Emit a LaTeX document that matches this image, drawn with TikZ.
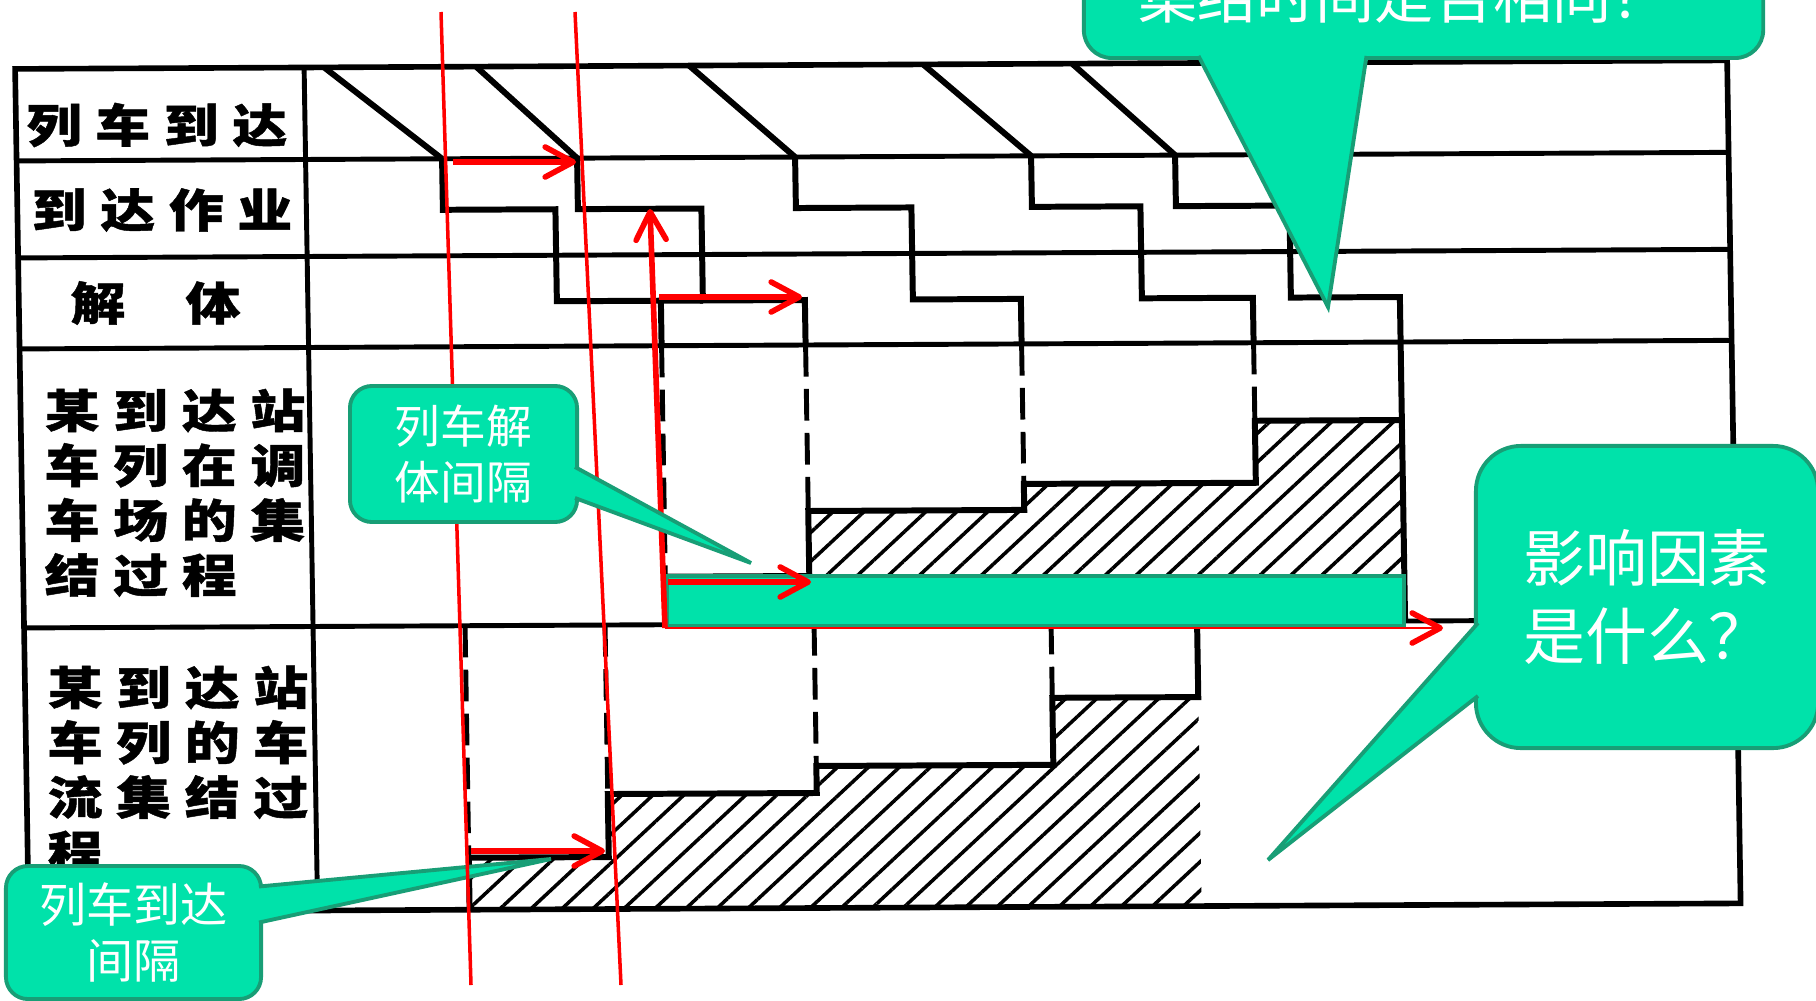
\documentclass[tikz,border=0pt]{standalone}
\usepackage{fontspec}
\usepackage{tikz}
\usetikzlibrary{arrows.meta,calc,patterns.meta}

\newfontfamily\cjk{Noto Sans CJK SC}
\newfontfamily\cjktab[FakeStretch=1.2,LetterSpace=30,FakeBold=1]{Noto Sans CJK SC}

\definecolor{bubblefill}{RGB}{0,226,170}
\definecolor{bubbleline}{RGB}{24,158,118}

\begin{document}
\begin{tikzpicture}[
  x=0.01cm, y=-0.01cm,
  frame/.style={line width=1.6pt},
  grid/.style={line width=1.4pt},
  stair/.style={line width=1.7pt, line join=miter},
  gapline/.style={line width=1.4pt, dash pattern=on 9pt off 3.5pt},
  hatch/.style={pattern={Lines[angle=43,distance=6pt,line width=1pt]}},
  rowlabel/.style={font=\cjktab\bfseries\fontsize{13}{15.6}\selectfont, inner sep=0pt, align=left},
  bubble/.style={draw=bubbleline, fill=bubblefill, line width=1.1pt, text=white,
    inner sep=0pt, align=center},
  pointer/.style={draw=bubbleline, fill=bubblefill, line width=1.1pt, line join=miter},
  guide/.style={red, line width=1pt},
  redarr/.style={red, line width=1.6pt,
    -{Straight Barb[length=0.28cm,width=0.3cm,line width=1.6pt,round]}},
]
\useasboundingbox (0,0) rectangle (1816,1000);

% scanned chart, slightly sheared
\begin{scope}[cm={1,0.005,-0.016,1,(0,0)}]
  % hatched accumulation
  \path[hatch] (656,628) -- (656,580) -- (800,580) -- (800,515) -- (1016,515)
    -- (1016,489) -- (1248,489) -- (1248,427) -- (1395,427) -- (1395,628) -- cycle;
  \path[hatch] (455,912) -- (455,860) -- (595,860) -- (595,797) -- (804,797)
    -- (804,770) -- (1041,770) -- (1041,703) -- (1187,703) -- (1187,912) -- cycle;
  \draw[stair] (656,580) -- (800,580) -- (800,515) -- (1016,515) -- (1016,489)
    -- (1248,489) -- (1248,427) -- (1395,427);
  \draw[stair] (455,912) -- (455,860) -- (595,860) -- (595,797) -- (804,797)
    -- (804,770) -- (1041,770) -- (1041,703) -- (1187,703) -- (1187,628);

  % table
  \draw[frame] (14,69) rectangle (1726,912);
  \draw[grid] (303,69) -- (303,912);
  \foreach \y in {161,258,349,628}
    \draw[grid] (14,\y) -- (1726,\y);

  % arrivals, arrival work and breakup
  \foreach \t/\a in {323/439.5,475/574.5,688/792.5,922/1028.5,1071/1172.5}
    \draw[stair] (\t,69) -- (\a,161);
  \foreach \a/\e/\b in {439.5/552/656,574.5/698/800,792.5/908/1016,1028.5/1137/1248,1172.5/1286/1395}
    \draw[stair] (\a,161) -- (\a,212) -- (\e,212) -- (\e,304) -- (\b,304) -- (\b,349);
  \draw[stair] (656,304) -- (698,304);
  \draw[stair] (1395,349) -- (1395,628);

  \foreach \x/\yb in {656/580,800/515,1016/489,1248/427}
    \draw[gapline] (\x,349) -- (\x,\yb);
  \foreach \x/\yb in {455/860,595/797,804/770,1041/703}
    \draw[gapline] (\x,628) -- (\x,\yb);
\end{scope}

% row labels
\node[rowlabel, anchor=west] (arrive) at (26,125) {列车到达};
\node[rowlabel, anchor=west] (arrwork) at (31,210) {到达作业};
\node[rowlabel, anchor=west] (breakup) at (70,303) {解\hspace{0.6cm}体};
\node[rowlabel, anchor=north west] (yard) at (44,388) {某到达站\\车列在调\\车场的集\\结过程};
\node[rowlabel, anchor=north west] (flow) at (47,665) {某到达站\\车列的车\\流集结过\\程};

% collection time bar
\node[bubble, line width=1pt, minimum width=7.37cm, minimum height=0.5cm,
  anchor=south west] (gbar) at (665,628) {};

% arrival interval callout
\node[bubble, rounded corners=0.22cm, minimum width=2.55cm, minimum height=1.33cm,
  font=\cjk\fontsize{13.4}{15.9}\selectfont] (gap2) at (133.5,932.5) {列车到达\\间隔};
\coordinate (gap2 tip) at (551,859);
\filldraw[pointer] ($(gap2.east)+(-4,-46)$) -- (gap2 tip) -- ($(gap2.east)+(-4,-10)$);

% red guides
\coordinate (g1 top) at (441,12);
\coordinate (g1 bot) at (471,985);
\coordinate (g2 top) at (575,12);
\coordinate (g2 bot) at (621,985);
\draw[guide] (g1 top) -- (g1 bot);
\draw[guide] (g2 top) -- (g2 bot);

\coordinate (arrA s) at (453,162);
\coordinate (arrA e) at (576,162);
\coordinate (brk s) at (659,297);
\coordinate (brk e) at (802,297);
\coordinate (up e) at (650,209);
\coordinate (acc s) at (668,582);
\coordinate (acc e) at (811,582);
\coordinate (flow s) at (471,851);
\coordinate (flow e) at (605,851);
\coordinate (time e) at (1443,628);
\draw[redarr] (arrA s) -- (arrA e);
\draw[redarr] (brk s) -- (brk e);
\draw[redarr] (gbar.south west) -- (up e);
\draw[redarr] (acc s) -- (acc e);
\draw[redarr] (flow s) -- (flow e);
\draw[redarr, line width=0.8pt] (gbar.south west) -- (time e);

% breakup interval callout
\node[bubble, rounded corners=0.22cm, minimum width=2.27cm, minimum height=1.36cm,
  font=\cjk\fontsize{13}{16.2}\selectfont] (gap1) at (463.5,454) {列车解\\体间隔};
\coordinate (gap1 tip) at (751,563);
\filldraw[pointer] ($(gap1.east)+(-4,13)$) -- (gap1 tip) -- ($(gap1.east)+(-4,44)$);

% factors callout
\node[bubble, rounded corners=0.45cm, minimum width=3.42cm, minimum height=3.02cm,
  font=\cjk\fontsize{17.6}{22}\selectfont] (factor) at (1647,597) {影响因素\\是什么？};
\coordinate (factor tip) at (1268,860);
\filldraw[pointer] ($(factor.west)+(4,26)$) -- (factor tip) -- ($(factor.west)+(4,99)$);

% same time callout
\node[bubble, rounded corners=0.28cm, minimum width=6.79cm, minimum height=1.24cm,
  font=\cjk\fontsize{16.8}{20}\selectfont] (same) at (1423.5,-4)
  {\hspace*{-0.38cm}集结时间是否相同？};
\coordinate (same tip) at (1328,307);
\filldraw[pointer] ($(same.south)+(-225,-4)$) -- (same tip) -- ($(same.south)+(-57,-4)$);

\end{tikzpicture}
\end{document}
